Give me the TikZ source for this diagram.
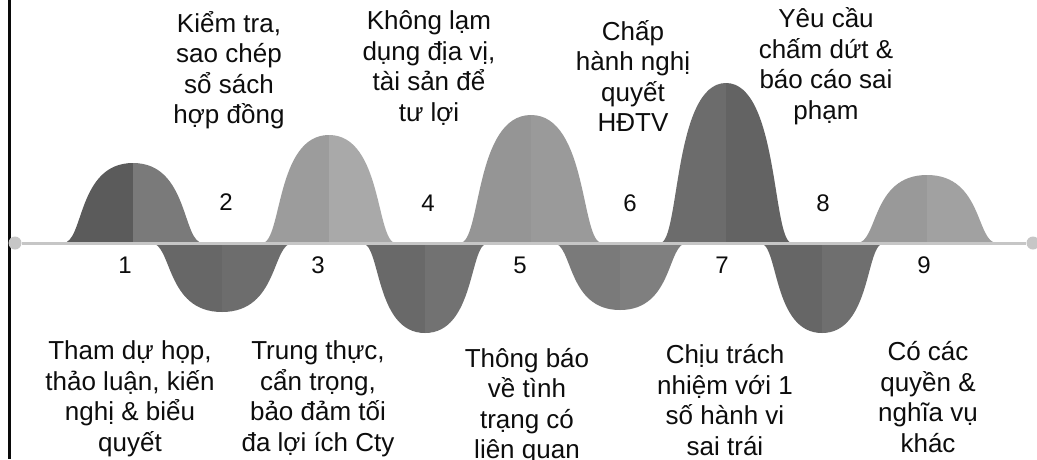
\documentclass[tikz,border=0pt]{standalone}
\usepackage{fontspec}
\setmainfont{Liberation Sans}
\definecolor{axisgray}{HTML}{C6C6C6}
\definecolor{edgeblack}{HTML}{0A0A0A}
\definecolor{textdark}{HTML}{0D0D0D}
\definecolor{humpAl}{HTML}{5B5B5B}
\definecolor{humpAr}{HTML}{7A7A7A}
\definecolor{humpBl}{HTML}{676767}
\definecolor{humpBr}{HTML}{6D6D6D}
\definecolor{humpCl}{HTML}{9C9C9C}
\definecolor{humpCr}{HTML}{A9A9A9}
\definecolor{humpDl}{HTML}{696969}
\definecolor{humpDr}{HTML}{727272}
\definecolor{humpEl}{HTML}{959595}
\definecolor{humpEr}{HTML}{9A9A9A}
\definecolor{humpFl}{HTML}{7A7A7A}
\definecolor{humpFr}{HTML}{7F7F7F}
\definecolor{humpGl}{HTML}{6C6C6C}
\definecolor{humpGr}{HTML}{636363}
\definecolor{humpHl}{HTML}{666666}
\definecolor{humpHr}{HTML}{6F6F6F}
\definecolor{humpIl}{HTML}{999999}
\definecolor{humpIr}{HTML}{A1A1A1}
\tikzset{
  label-text/.style={align=center, text=textdark, font=\fontsize{26}{30.5}\selectfont},
  step-num/.style={text=textdark, font=\fontsize{24}{28}\selectfont},
  axis-dot/.style={circle, fill=axisgray, minimum size=13pt, inner sep=0pt},
  axis-line/.style={draw=axisgray, line width=3pt}
}
% one bell, split in a left and a right half
\newcommand{\wavehump}[5]{%
  \fill[#4] ({#1-#2},243) .. controls ({#1-0.7*#2},243) and ({#1-0.8*#2},#3) .. (#1,#3) -- (#1,243) -- cycle;
  \fill[#5] (#1,#3) .. controls ({#1+0.8*#2},#3) and ({#1+0.7*#2},243) .. ({#1+#2},243) -- (#1,243) -- cycle;
}
\begin{document}
\begin{tikzpicture}[x=1pt, y=-1pt]
\useasboundingbox (0,0) rectangle (1037,459);
\clip (0,0) rectangle (1037,459);
\fill[white] (0,0) rectangle (1037,459);

\draw[edgeblack, line width=3pt] (9,0) -- (9,459);

% waves above and below the axis
\wavehump{133}{70}{163}{humpAl}{humpAr}
\wavehump{222}{71}{312}{humpBl}{humpBr}
\wavehump{329}{67}{135}{humpCl}{humpCr}
\wavehump{425}{63}{333}{humpDl}{humpDr}
\wavehump{531}{71}{115}{humpEl}{humpEr}
\wavehump{620}{67}{310}{humpFl}{humpFr}
\wavehump{726}{66}{83}{humpGl}{humpGr}
\wavehump{822}{62}{333}{humpHl}{humpHr}
\wavehump{927}{70}{175}{humpIl}{humpIr}

\node[axis-dot] (dotl) at (15,243) {};
\node[axis-dot] (dotr) at (1033,243) {};
\draw[axis-line] (dotl) -- (dotr);

\node[step-num] (n1) at (125,265) {1};
\node[step-num] (n2) at (226,202) {2};
\node[step-num] (n3) at (318,265) {3};
\node[step-num] (n4) at (428,203) {4};
\node[step-num] (n5) at (520,265) {5};
\node[step-num] (n6) at (630,203) {6};
\node[step-num] (n7) at (722,265) {7};
\node[step-num] (n8) at (823,203) {8};
\node[step-num] (n9) at (924,265) {9};

\node[label-text] (kiemtra) at (229,70) {Kiểm tra,\\sao chép\\sổ sách\\hợp đồng};
\node[label-text] (khonglam) at (429,68) {Không lạm\\dụng địa vị,\\tài sản để\\tư lợi};
\node[label-text] (chaphanh) at (633,76) {Chấp\\hành nghị\\quyết\\HĐTV};
\node[label-text] (yeucau) at (826,66) {Yêu cầu\\chấm dứt \&\\báo cáo sai\\phạm};

\node[label-text] (thamdu) at (130,399) {Tham dự họp,\\thảo luận, kiến\\nghị \& biểu\\quyết};
\node[label-text] (trungthuc) at (318,399) {Trung thực,\\cẩn trọng,\\bảo đảm tối\\đa lợi ích Cty};
\node[label-text] (thongbao) at (527,406) {Thông báo\\về tình\\trạng có\\liên quan};
\node[label-text] (chiutrach) at (725,400) {Chịu trách\\nhiệm với 1\\số hành vi\\sai trái};
\node[label-text] (cocac) at (928,397) {Có các\\quyền \&\\nghĩa vụ\\khác};

\end{tikzpicture}
\end{document}
